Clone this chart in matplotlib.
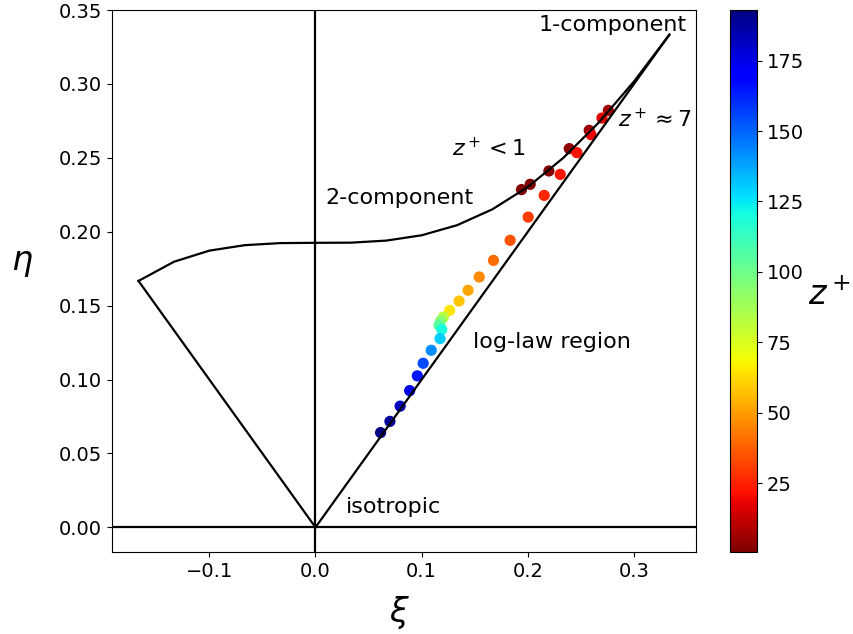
import numpy as np
import matplotlib
matplotlib.use('Agg')
import matplotlib.pyplot as plt

# 2-component limit curve (coarse segments)
xi_2c = [-0.1667, -0.1333, -0.1, -0.0667, -0.0333, 0.0, 0.0333, 0.0667,
         0.1, 0.1333, 0.1667, 0.2, 0.2333, 0.2667, 0.3, 0.3333]
eta_2c = [0.1667, 0.1797, 0.1872, 0.1909, 0.1923, 0.1925, 0.1926, 0.1940,
          0.1976, 0.2044, 0.2152, 0.2303, 0.2499, 0.2738, 0.3017, 0.3333]
# axisymmetric lines
xi_left = [0.0, -0.1667]
eta_left = [0.0, 0.1667]
xi_right = [0.0, 0.3333]
eta_right = [0.0, 0.3333]

# anisotropy invariants along the wall-normal direction
xi = [0.194, 0.2022, 0.2198, 0.239, 0.2578, 0.2758,
      0.2698, 0.2594, 0.2462, 0.2305, 0.2154, 0.2003, 0.1833, 0.1676,
      0.1542, 0.1437, 0.1352, 0.1264, 0.1205, 0.1179, 0.1163, 0.1189,
      0.1173, 0.1090, 0.1014, 0.0959, 0.0887, 0.0797, 0.0701, 0.0613]
eta = [0.2285, 0.2321, 0.2411, 0.2562, 0.2686, 0.2821,
       0.2769, 0.2657, 0.2535, 0.2388, 0.2246, 0.2099, 0.1942, 0.1806,
       0.1694, 0.1604, 0.1531, 0.1468, 0.1423, 0.1396, 0.1367, 0.1338,
       0.1277, 0.1198, 0.1110, 0.1025, 0.0925, 0.0820, 0.0717, 0.0641]
zplus = [0.5, 1.2, 2.0, 3.0, 4.5, 6.5,
         17, 19, 21, 23, 26, 30, 35, 40,
         46, 52, 58, 65, 82, 95, 105, 120,
         130, 142, 155, 165, 175, 182, 188, 193]

fig = plt.figure(figsize=(8.54, 6.34), dpi=100)
ax = fig.add_axes([0.1311, 0.1293, 0.6838, 0.8549])
cax = fig.add_axes([0.8548, 0.1293, 0.0316, 0.8549])

sc = ax.scatter(xi, eta, c=zplus, cmap='jet_r', s=50, zorder=1)
ax.plot(xi_2c, eta_2c, 'k-', lw=1.6)
ax.plot(xi_left, eta_left, 'k-', lw=1.6)
ax.plot(xi_right, eta_right, 'k-', lw=1.6)
ax.axvline(0, color='k', lw=1.6)
ax.axhline(0, color='k', lw=1.6)
ax.set_xlim(-0.1917, 0.3583)
ax.set_ylim(-0.0167, 0.35)

fs = 16
ax.text(0.21, 0.3356, '1-component', fontsize=fs)
ax.text(0.285, 0.2706, r'$z^+\approx 7$', fontsize=fs)
ax.text(0.129, 0.251, r'$z^+<1$', fontsize=fs)
ax.text(0.0094, 0.219, '2-component', fontsize=fs)
ax.text(0.148, 0.121, 'log-law region', fontsize=fs)
ax.text(0.029, 0.010, 'isotropic', fontsize=fs)

ax.tick_params(labelsize=14)
ax.set_xlabel(r'$\xi$', fontsize=24, va='center', ha='center')
ax.xaxis.set_label_coords(0.493, -0.111)
ax.set_ylabel(r'$\eta$', fontsize=24, rotation=0, va='center', ha='center')
ax.yaxis.set_label_coords(-0.154, 0.535)

cb = fig.colorbar(sc, cax=cax)
cb.ax.tick_params(labelsize=14)
cb.set_label(r'$z^+$', fontsize=24, rotation=0, va='center', ha='center')
cb.ax.yaxis.set_label_coords(3.7, 0.474)

fig.savefig('out.png', dpi=100)
